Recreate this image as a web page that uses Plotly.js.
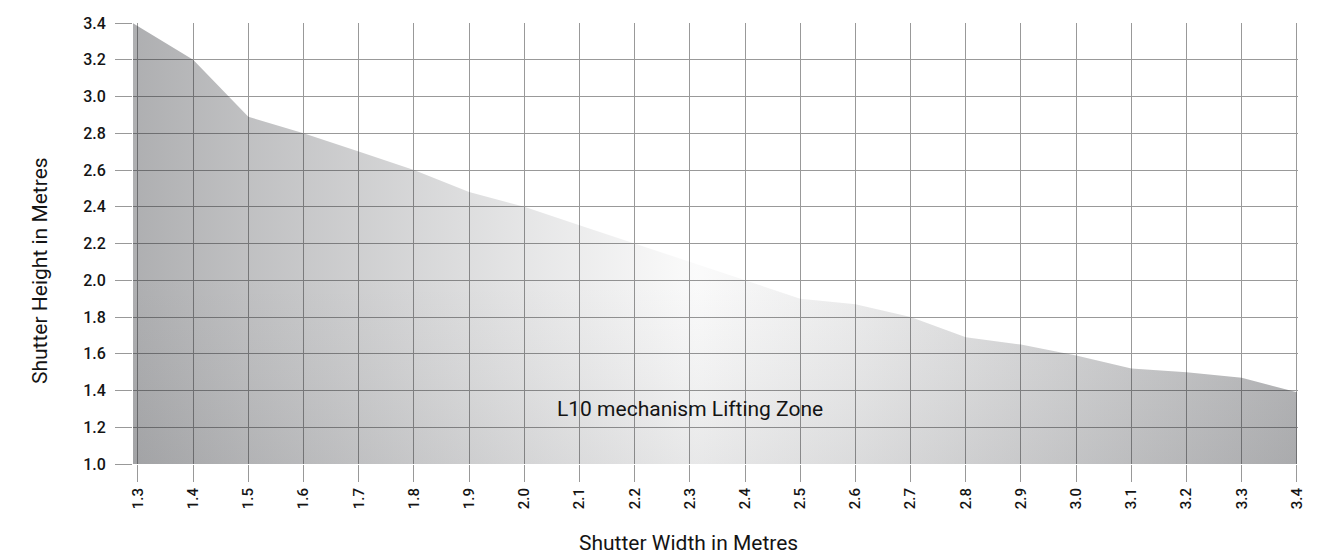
<!DOCTYPE html>
<html>
<head>
<meta charset="utf-8">
<script src="https://cdn.plot.ly/plotly-3.0.1.min.js"></script>
<style>html,body{margin:0;padding:0;background:#fff;}#chart{width:1332px;height:557px;}</style>
</head>
<body>
<div id="chart"></div>
<script>
// Data
const widths  = [1.29, 1.4, 1.5, 1.6, 1.7, 1.8, 1.9, 2.0, 2.1, 2.2, 2.3, 2.4, 2.5, 2.6, 2.7, 2.8, 2.9, 3.0, 3.1, 3.2, 3.3, 3.4];
const heights = [3.40, 3.20, 2.89, 2.80, 2.70, 2.60, 2.48, 2.40, 2.30, 2.20, 2.10, 2.00, 1.90, 1.87, 1.80, 1.69, 1.65, 1.59, 1.52, 1.50, 1.47, 1.39];
const baseHeight = 1.0;
const xTickVals = [1.3,1.4,1.5,1.6,1.7,1.8,1.9,2.0,2.1,2.2,2.3,2.4,2.5,2.6,2.7,2.8,2.9,3.0,3.1,3.2,3.3,3.4];
const xTickText = ['1.3','1.4','1.5','1.6','1.7','1.8','1.9','2.0','2.1','2.2','2.3','2.4','2.5','2.6','2.7','2.8','2.9','3.0','3.1','3.2','3.3','3.4'];
const yTickVals = [1.0,1.2,1.4,1.6,1.8,2.0,2.2,2.4,2.6,2.8,3.0,3.2,3.4];
const yTickText = ['1.0','1.2','1.4','1.6','1.8','2.0','2.2','2.4','2.6','2.8','3.0','3.2','3.4'];
const zoneLabel = 'L10 mechanism Lifting Zone';
const xTitle = 'Shutter Width in Metres';
const yTitle = 'Shutter Height in Metres';

const FONT = 'Roboto, "DejaVu Sans", sans-serif';
const TEXT = '#141414';
const gridColor = '#999999';
const shade = a => 'rgba(30,32,38,' + a + ')';

const baseline = {
  x: widths, y: widths.map(() => baseHeight),
  mode: 'lines', line: {width: 0}, hoverinfo: 'skip', showlegend: false
};

const traces = [
  baseline,
  { // horizontal shading: light in the middle, darker towards both sides
    x: widths, y: heights, mode: 'lines', line: {width: 0}, fill: 'tonexty', showlegend: false,
    fillgradient: {
      type: 'horizontal', start: widths[0], stop: widths[widths.length - 1],
      colorscale: [[0, shade(0.36)], [0.10, shade(0.28)], [0.23, shade(0.19)], [0.358, shade(0.10)],
                   [0.484, shade(0.02)], [0.615, shade(0.08)], [0.744, shade(0.16)], [0.873, shade(0.24)], [1, shade(0.32)]]
    }
  },
  Object.assign({}, baseline),
  { // vertical shading: slightly darker towards the bottom
    x: widths, y: heights, mode: 'lines', line: {width: 0}, fill: 'tonexty', showlegend: false,
    fillgradient: {
      type: 'vertical', start: baseHeight, stop: heights[0],
      colorscale: [[0, shade(0.085)], [0.2, shade(0.04)], [0.43, shade(0)], [1, shade(0)]]
    }
  }
];

const axisCommon = {
  showgrid: true, gridcolor: gridColor, gridwidth: 1,
  zeroline: false, showline: false,
  ticks: 'outside', ticklen: 17, tickcolor: gridColor, tickwidth: 1,
  tickfont: {family: FONT, size: 16, color: TEXT, weight: 500}
};

const pw = 1332 - 133 - 34, ph = 557 - 23 - 93;

const layout = {
  width: 1332, height: 557,
  margin: {l: 133, r: 34, t: 23, b: 93},
  paper_bgcolor: '#ffffff', plot_bgcolor: 'rgba(0,0,0,0)',
  showlegend: false,
  xaxis: Object.assign({}, axisCommon, {
    range: [1.291, 3.402], tickmode: 'array', tickvals: xTickVals, ticktext: xTickText,
    tickangle: -90, tickfont: {family: FONT, size: 15, color: TEXT, weight: 500}
  }),
  yaxis: Object.assign({}, axisCommon, {
    range: [1.0, 3.4], tickmode: 'array', tickvals: yTickVals, ticktext: yTickText,
    ticklabelstandoff: 6
  }),
  annotations: [
    {x: 2.3, y: 1.3, xref: 'x', yref: 'y', xanchor: 'center', yanchor: 'middle',
     text: zoneLabel, showarrow: false, font: {family: FONT, size: 21, color: TEXT}},
    {x: (688 - 133) / pw, y: (464 - 543) / ph, xref: 'paper', yref: 'paper',
     xanchor: 'center', yanchor: 'middle',
     text: xTitle, showarrow: false, font: {family: FONT, size: 21, color: TEXT}},
    {x: (40 - 133) / pw, y: (464 - 271) / ph, xref: 'paper', yref: 'paper',
     xanchor: 'center', yanchor: 'middle', textangle: -90,
     text: yTitle, showarrow: false, font: {family: FONT, size: 21, color: TEXT}}
  ]
};

Plotly.newPlot('chart', traces, layout, {displayModeBar: false, staticPlot: true});
</script>
</body>
</html>
